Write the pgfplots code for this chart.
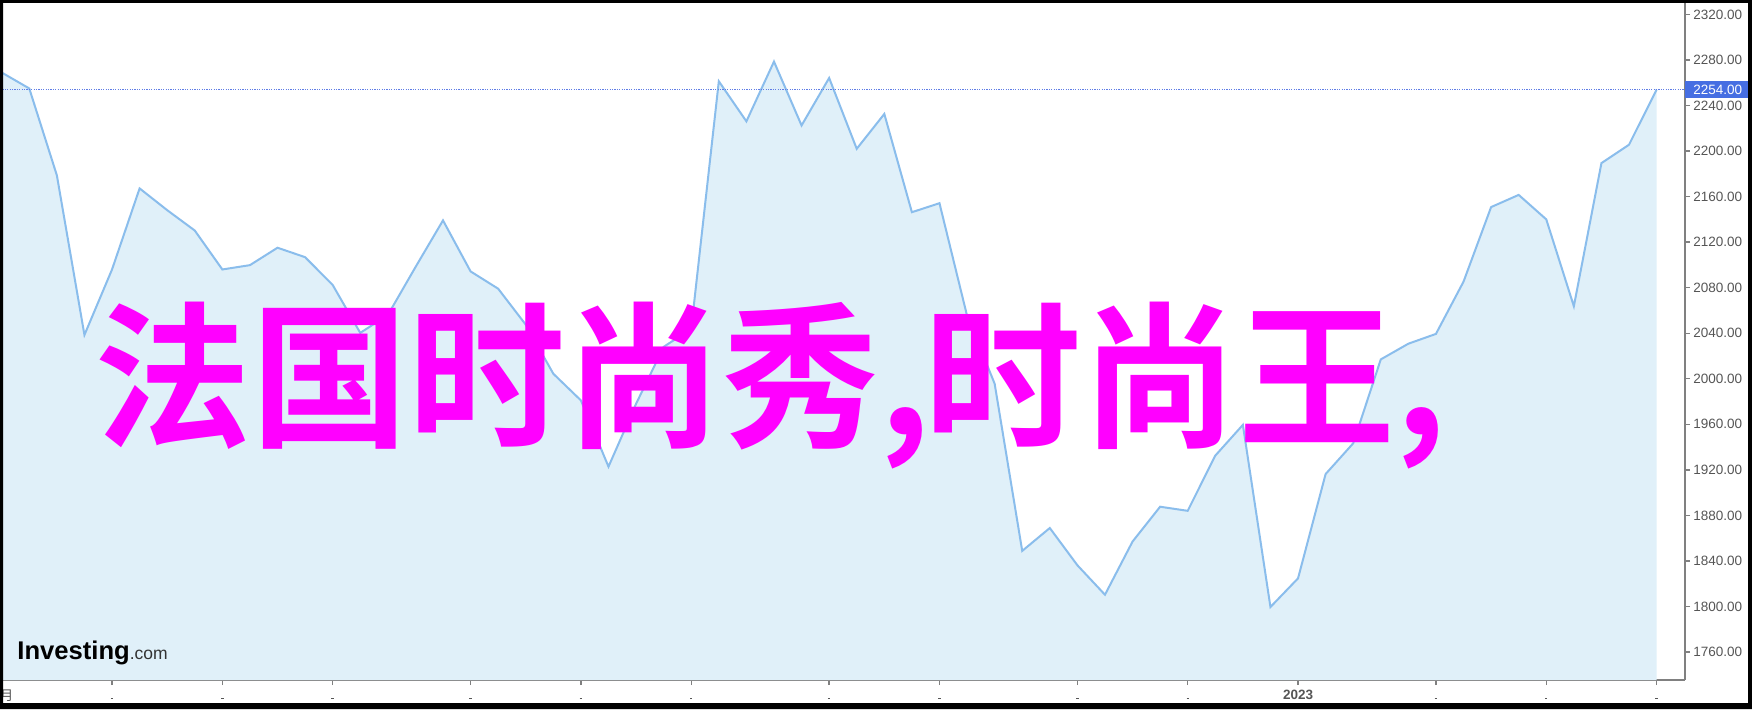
\documentclass[border=0pt]{standalone}
\usepackage{pgfplots}
\pgfplotsset{compat=1.18}
\usepackage{pgfplotstable}
\usepackage{fontspec}
\setmainfont{Liberation Sans}
\newfontfamily\cjk{Noto Sans CJK SC}
\newfontfamily\cjkb{Noto Sans CJK SC}[UprightFont=* Bold]
\definecolor{fillblue}{RGB}{224,240,249}
\definecolor{linecol}{RGB}{138,189,236}
\definecolor{dotblue}{RGB}{95,125,230}
\definecolor{boxblue}{RGB}{70,110,226}
\definecolor{axgray}{RGB}{128,128,128}
\definecolor{labgray}{RGB}{85,85,85}
\definecolor{mag}{RGB}{255,0,255}
\newcommand\xd{{\color{labgray}\rule{1.2pt}{0.7pt}}}

\pgfplotstableread{
i v
0 2269
1 2255
2 2178.7
3 2038.5
4 2096
5 2167.2
6 2148.1
7 2130.2
8 2096
9 2099.8
10 2115.1
11 2106.8
12 2082.4
13 2040.3
14 2056
15 2098
16 2139.1
17 2094.3
18 2079.1
19 2047.5
20 2004.4
21 1981
22 1922.8
23 1978
24 2028
25 2044
26 2261.3
27 2226.1
28 2278.6
29 2222.5
30 2264.2
31 2202
32 2232.6
33 2146.3
34 2154.2
35 2055.4
36 1995.7
37 1848.8
38 1868.9
39 1836.2
40 1810.3
41 1857
42 1887.6
43 1884
44 1932.5
45 1959.5
46 1799.5
47 1824.7
48 1916.3
49 1943.3
50 2017
51 2030.8
52 2039.4
53 2085.3
54 2150.8
55 2161.5
56 2140
57 2063.7
58 2189.4
59 2205.6
60 2254
}\gold

\begin{document}
\begin{tikzpicture}
\path[use as bounding box] (0,-14.5pt) rectangle (876pt,340pt);
\fill[white] (0,-14.5pt) rectangle (876pt,340pt);
\begin{axis}[
  at={(0,0)}, anchor=south west,
  scale only axis, width=842.5pt, height=340pt,
  xmin=-0.0616, xmax=61.03, ymin=1735.4, ymax=2332.7,
  axis x line*=bottom, axis y line*=right,
  axis line style={draw=axgray, line width=1pt, -},
  clip mode=individual,
  ytick={1760,1800,...,2320},
  xtick={4,8,12,17,21,25,30,34,39,43,47,52,56,60},
  xticklabels={\xd,\xd,\xd,\xd,\xd,\xd,\xd,\xd,\xd,\xd,\textbf{2023},\xd,\xd,\xd},
  tick align=outside, major tick length=2.5pt,
  tick style={draw=axgray, line width=0.7pt},
  yticklabel style={anchor=west, inner sep=0pt, xshift=1.5pt,
    font=\fontsize{6.75}{8}\selectfont, text=labgray,
    /pgf/number format/.cd, fixed, fixed zerofill, precision=2, 1000 sep={}, assume math mode=true},
  xticklabel style={anchor=base, inner sep=0pt, yshift=-7pt,
    font=\fontsize{6.75}{8}\selectfont, text=labgray},
]
\addplot[draw=none, fill=fillblue] table[x=i,y=v]{\gold} \closedcycle;
\addplot[linecol, line width=1pt] table[x=i,y=v]{\gold};
\draw[dotblue, line width=0.7pt, dash pattern=on 0.6pt off 0.6pt]
  ({rel axis cs:0,0}|-{axis cs:0,2254}) -- ({rel axis cs:1,0}|-{axis cs:0,2254});
\node[anchor=west, fill=boxblue, text=white, inner xsep=4pt, inner ysep=0pt,
  minimum height=8.5pt, font=\fontsize{6.75}{8}\selectfont]
  at ({rel axis cs:1,0}|-{axis cs:0,2254}) {2254.00};
\end{axis}
\node[anchor=base west, inner sep=0pt] at (8.5pt,10.5pt)
  {\fontsize{12.8}{14}\selectfont\bfseries Investing\fontsize{8.75}{10}\selectfont\mdseries\color{black!80}.com};
\node[anchor=base east, inner sep=0pt, text=labgray] at (6.9pt,-10pt)
  {\cjk\fontsize{6.75}{8}\selectfont 月};
\node[anchor=base west, inner sep=0pt, text=mag] at (47.25pt,122.5pt)
  {\cjkb\fontsize{78.5}{80}\selectfont 法国时尚秀,\kern-3.2pt 时尚王,};
\fill[black, even odd rule] (0,-14.5pt) rectangle (876pt,340pt) (1.5pt,-11.5pt) rectangle (874pt,338.5pt);
\end{tikzpicture}
\end{document}
